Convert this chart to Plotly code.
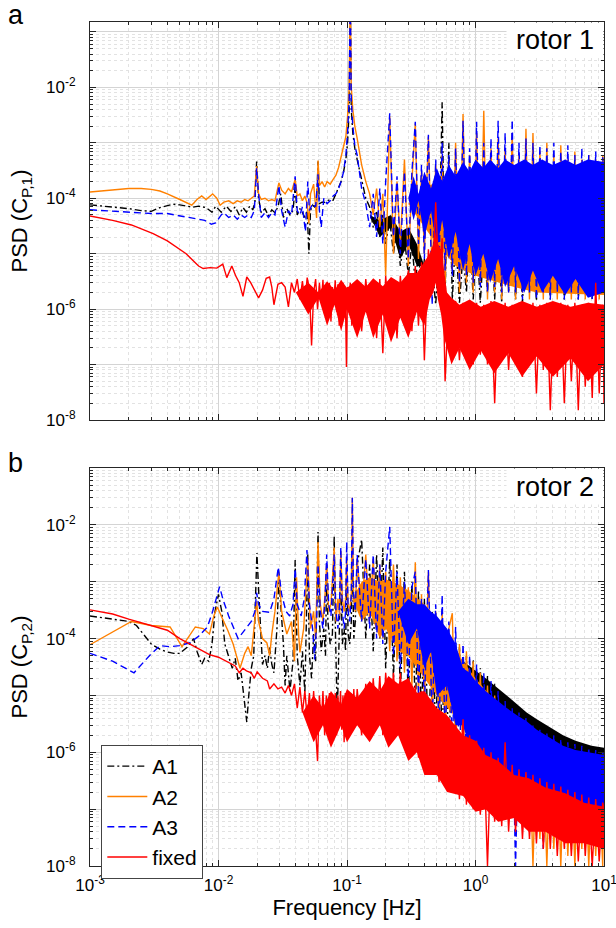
import plotly.graph_objects as go

# ---------------- data ----------------
# shared frequency grid (Hz) for the dense high-frequency part of every spectrum
F_DENSE = [0.12, 0.13, 0.14, 0.15, 0.16, 0.17, 0.18, 0.19,
           0.20, 0.215, 0.23, 0.245, 0.26, 0.28, 0.30, 0.32,
           0.34, 0.36, 0.38, 0.40, 0.43, 0.46, 0.49, 0.52,
           0.55, 0.58, 0.62, 0.66, 0.70, 0.75, 0.80, 0.85,
           0.90, 0.96, 1.02, 1.09, 1.16, 1.24, 1.32, 1.41,
           1.50, 1.60, 1.70, 1.81, 1.93, 2.05, 2.18, 2.32,
           2.47, 2.63, 2.80, 2.98, 3.17, 3.37, 3.59, 3.82,
           4.07, 4.33, 4.61, 4.91, 5.23, 5.57, 5.93, 6.31,
           6.72, 7.15, 7.61, 8.10, 8.62, 9.18, 9.77, 10.0]

# ---- rotor 1 : low-frequency part (f [Hz], PSD) ----
r1_A1_low = [(0.001, 7.6e-5), (0.0015, 7e-5), (0.002, 6.5e-5), (0.0025, 6e-5), (0.003, 5.8e-5),
             (0.0035, 6.8e-5), (0.0044, 7.8e-5), (0.005, 7.6e-5), (0.0063, 6.9e-5), (0.007, 7.2e-5),
             (0.008, 6.8e-5), (0.0089, 5.6e-5), (0.0095, 7.2e-5), (0.0105, 5.6e-5), (0.0115, 7.2e-5),
             (0.0125, 5.8e-5), (0.0135, 7e-5), (0.0145, 5e-5), (0.0155, 6.8e-5), (0.0165, 5.6e-5),
             (0.0175, 7.2e-5), (0.0185, 6.2e-5), (0.0192, 8.5e-5), (0.0198, 4.6e-4), (0.0205, 1e-4),
             (0.0215, 5.5e-5), (0.023, 6.5e-5), (0.0245, 4.8e-5), (0.026, 6.2e-5), (0.0275, 5.5e-5),
             (0.029, 7e-5), (0.0305, 1.2e-4), (0.032, 4.5e-5), (0.034, 6.5e-5), (0.036, 5e-5),
             (0.038, 6e-5), (0.0395, 1.6e-4), (0.041, 5e-5), (0.043, 6.5e-5), (0.045, 5.5e-5),
             (0.047, 4.5e-5), (0.049, 6e-5), (0.0505, 1e-5), (0.052, 6e-5), (0.054, 7.5e-5),
             (0.056, 7e-5), (0.058, 8e-5), (0.0595, 4.6e-4), (0.061, 8e-5), (0.064, 8.5e-5),
             (0.067, 8.5e-5), (0.07, 9e-5), (0.074, 9.5e-5), (0.078, 9.2e-5), (0.082, 1.2e-4),
             (0.086, 1.5e-4), (0.09, 2e-4), (0.094, 3e-4), (0.098, 5e-4), (0.101, 1e-3),
             (0.104, 4e-3), (0.106, 0.5), (0.108, 4e-3), (0.111, 1.5e-3), (0.115, 8e-4)]
r1_A2_low = [(0.001, 1.3e-4), (0.0015, 1.4e-4), (0.002, 1.5e-4), (0.0025, 1.5e-4), (0.003, 1.45e-4),
             (0.0035, 1.35e-4), (0.004, 1.2e-4), (0.005, 9.5e-5), (0.0062, 7.5e-5), (0.0068, 9.5e-5),
             (0.0074, 1.1e-4), (0.008, 9.5e-5), (0.009, 1.2e-4), (0.0097, 1e-4), (0.0103, 7.5e-5),
             (0.011, 8.5e-5), (0.012, 9e-5), (0.013, 8e-5), (0.014, 9e-5), (0.015, 8.5e-5),
             (0.016, 9.5e-5), (0.017, 9e-5), (0.018, 1e-4), (0.019, 1.1e-4), (0.0198, 3.8e-4),
             (0.0205, 1.2e-4), (0.0215, 9.5e-5), (0.023, 1e-4), (0.0245, 9e-5), (0.026, 9.5e-5),
             (0.0275, 9e-5), (0.0295, 1.9e-4), (0.031, 1.4e-4), (0.033, 1.2e-4), (0.035, 1.5e-4),
             (0.037, 1.3e-4), (0.0395, 2.2e-4), (0.041, 1.1e-4), (0.043, 1.2e-4), (0.045, 9e-5),
             (0.047, 1.1e-4), (0.049, 8e-5), (0.0505, 3.5e-5), (0.052, 1.2e-4), (0.055, 1.8e-4),
             (0.058, 4.4e-5), (0.0595, 4.8e-4), (0.061, 1.7e-4), (0.064, 2e-4), (0.067, 1.6e-4),
             (0.07, 2e-4), (0.074, 1.8e-4), (0.078, 2.2e-4), (0.082, 2.6e-4), (0.086, 3.6e-4),
             (0.09, 5.5e-4), (0.094, 8e-4), (0.098, 1.3e-3), (0.101, 3e-3), (0.104, 1e-2),
             (0.106, 0.5), (0.108, 1e-2), (0.111, 4e-3), (0.115, 2e-3)]
r1_A3_low = [(0.001, 6.2e-5), (0.0015, 5.8e-5), (0.002, 5.5e-5), (0.0025, 5.3e-5), (0.003, 5.3e-5),
             (0.004, 5.3e-5), (0.005, 4.8e-5), (0.006, 4.5e-5), (0.007, 4.2e-5), (0.0078, 4e-5),
             (0.0088, 3.4e-5), (0.0095, 3.6e-5), (0.0105, 5e-5), (0.011, 5.5e-5), (0.012, 4.5e-5),
             (0.013, 5e-5), (0.014, 4.2e-5), (0.015, 5e-5), (0.016, 4.5e-5), (0.017, 5e-5),
             (0.018, 4.5e-5), (0.019, 6e-5), (0.0198, 3.5e-4), (0.0205, 1.2e-4), (0.0215, 4.5e-5),
             (0.023, 5.5e-5), (0.0245, 4.5e-5), (0.026, 5.5e-5), (0.0275, 5e-5), (0.0295, 1.7e-4),
             (0.031, 6e-5), (0.033, 3e-5), (0.035, 6e-5), (0.037, 5e-5), (0.0395, 2.5e-4),
             (0.041, 6e-5), (0.043, 5e-5), (0.045, 7e-5), (0.0475, 2.5e-5), (0.0495, 2e-4),
             (0.051, 6e-5), (0.054, 8e-5), (0.057, 7e-5), (0.0595, 2.7e-4), (0.061, 6e-5),
             (0.063, 3e-5), (0.066, 1e-4), (0.07, 8e-5), (0.074, 9e-5), (0.078, 1.1e-4),
             (0.082, 1.2e-4), (0.086, 1.5e-4), (0.09, 2e-4), (0.094, 3e-4), (0.098, 6e-4),
             (0.101, 1.5e-3), (0.104, 6e-3), (0.106, 0.5), (0.108, 6e-3), (0.111, 2e-3),
             (0.115, 9e-4)]
r1_FX_low = [(0.001, 4.8e-5), (0.0015, 4e-5), (0.0021, 3.3e-5), (0.0031, 2.3e-5), (0.004, 1.7e-5),
             (0.0047, 1.3e-5), (0.0056, 1e-5), (0.0063, 7.6e-6), (0.007, 6e-6), (0.0076, 5.4e-6),
             (0.0086, 5.6e-6), (0.0097, 5.5e-6), (0.0108, 6.5e-6), (0.0116, 3.7e-6), (0.0127, 6e-6),
             (0.0136, 4e-6), (0.0145, 3e-6), (0.0155, 1.7e-6), (0.0166, 3.8e-6), (0.0178, 3e-6),
             (0.019, 2.3e-6), (0.0205, 1.6e-6), (0.022, 2.2e-6), (0.0235, 3.6e-6), (0.025, 3.8e-6),
             (0.026, 2.5e-6), (0.027, 1.2e-6), (0.029, 2.8e-6), (0.031, 3e-6), (0.033, 2.5e-6),
             (0.035, 1.1e-6), (0.037, 3e-6), (0.039, 2e-6), (0.041, 3.5e-6), (0.043, 1.5e-6),
             (0.045, 3.2e-6), (0.047, 1.3e-6), (0.049, 3.7e-6), (0.051, 2.3e-6), (0.053, 2.2e-7),
             (0.055, 2e-6), (0.057, 3.5e-6), (0.059, 1e-6), (0.061, 3e-6), (0.063, 1.3e-6),
             (0.065, 3.4e-6), (0.067, 8e-7), (0.069, 2.7e-6), (0.071, 1.2e-6), (0.073, 3e-6),
             (0.075, 6e-7), (0.077, 2.5e-6), (0.079, 1.5e-6), (0.081, 3.3e-6), (0.083, 9e-7),
             (0.085, 2.8e-6), (0.087, 5e-7), (0.089, 2.5e-6), (0.091, 1.2e-6), (0.093, 3e-6),
             (0.095, 7e-7), (0.097, 2.2e-6), (0.099, 9e-8), (0.101, 2.5e-6), (0.103, 1e-6),
             (0.106, 3e-6), (0.109, 5e-7), (0.112, 2.5e-6), (0.116, 6e-7)]

# ---- rotor 1 : dense part on F_DENSE ----
r1_A1_dense = [5e-4, 2e-4, 1e-4, 7e-5, 3e-5, 6e-5, 2e-5, 5e-5,
               1.5e-5, 4e-5, 1e-5, 3e-5, 6e-6, 2e-5, 4e-6, 1.5e-5,
               3e-6, 1e-5, 2e-6, 8e-6, 1.5e-6, 6e-6, 1.2e-6, 1e-5,
               5.4e-3, 2e-6, 1e-3, 1.5e-6, 2e-5, 1.3e-6, 1e-5, 2e-6,
               3e-5, 1.5e-6, 2e-5, 1.3e-6, 1.5e-5, 2e-6, 3e-5, 1.5e-6,
               2e-5, 1.3e-6, 6e-4, 2e-6, 4e-5, 1.5e-6, 2e-5, 1.3e-6,
               3e-5, 2e-6, 2e-5, 1.4e-6, 2e-5, 2e-6, 3e-5, 1.5e-6,
               2e-5, 2e-6, 3e-5, 1.5e-6, 2e-5, 2e-6, 3e-5, 1.5e-6,
               2e-5, 2e-6, 3e-5, 1.5e-6, 2e-5, 2e-6, 3e-5, 1e-5]
r1_A2_dense = [1.2e-3, 4e-4, 2e-4, 1.2e-4, 5e-5, 1.5e-4, 3e-5, 1.2e-4,
               4e-6, 3e-3, 1e-5, 2e-4, 1.5e-5, 5e-4, 6e-6, 2e-4,
               2.2e-3, 8e-6, 3e-4, 1e-5, 1.3e-3, 4e-6, 4e-4, 8e-6,
               6e-4, 3e-6, 5e-4, 5e-6, 1e-3, 2e-6, 3.3e-3, 3e-6,
               6e-4, 2e-6, 1.5e-3, 3e-6, 3.8e-3, 1.5e-6, 8e-4, 2e-6,
               1.2e-3, 1.5e-6, 8e-4, 2e-6, 1.5e-3, 1.5e-6, 6e-4, 2e-6,
               1.8e-3, 1.5e-6, 1.5e-3, 2e-6, 7e-4, 1.5e-6, 1e-3, 2e-6,
               6e-4, 1.5e-6, 9e-4, 2e-6, 5e-4, 1.5e-6, 7e-4, 2e-6,
               5e-4, 1.5e-6, 6e-4, 2e-6, 5e-4, 1.5e-6, 6e-4, 4e-4]
r1_A3_dense = [6e-4, 1.5e-4, 8e-5, 3e-5, 1.2e-4, 2e-5, 1.5e-4, 1.5e-5,
               2e-4, 3.4e-3, 2e-5, 2.5e-4, 1e-5, 3e-4, 8e-6, 3e-4,
               2.4e-3, 1.5e-5, 4e-4, 8e-6, 1.4e-3, 1.2e-6, 5e-4, 6e-6,
               1e-3, 5e-6, 6e-4, 4e-6, 8e-4, 3e-6, 2.5e-3, 4e-6,
               8e-4, 3e-6, 2.4e-3, 2.5e-6, 1e-3, 2e-6, 1.2e-3, 2.5e-6,
               2.5e-3, 2e-6, 1.5e-3, 2e-6, 2.6e-3, 2e-6, 1e-3, 1.5e-6,
               1.2e-3, 2e-6, 1e-3, 1.5e-6, 9e-4, 2e-6, 8e-4, 1.5e-6,
               1e-3, 2e-6, 7e-4, 1.5e-6, 9e-4, 2e-6, 6e-4, 1.5e-6,
               8e-4, 2e-6, 6e-4, 1.5e-6, 7e-4, 2e-6, 5.5e-4, 3e-4]
r1_FX_dense = [3e-6, 4e-7, 3.5e-6, 6e-7, 3e-6, 3e-7, 3.5e-6, 1.6e-7,
               4e-6, 5e-7, 3.5e-6, 3e-7, 4e-6, 6e-7, 5e-6, 4e-7,
               6e-6, 5e-7, 7e-6, 1.2e-7, 1.2e-5, 2e-6, 8.5e-5, 3e-6,
               1.9e-5, 5e-8, 1.5e-6, 1.5e-7, 1.4e-6, 1.2e-7, 1.3e-6, 2e-7,
               1.4e-6, 1e-7, 1.3e-6, 1.5e-7, 1.2e-6, 1e-7, 1.4e-6, 2e-8,
               1.2e-6, 1.2e-7, 1.3e-6, 8e-8, 1.2e-6, 1e-7, 1.3e-6, 6e-8,
               1.2e-6, 1e-7, 1.3e-6, 3e-8, 1.2e-6, 8e-8, 1.3e-6, 1.5e-8,
               1.2e-6, 6e-8, 1.3e-6, 2e-8, 1.2e-6, 5e-8, 1.3e-6, 1.5e-8,
               1.2e-6, 4e-8, 1.3e-6, 2.5e-8, 3e-6, 3e-8, 1.2e-6, 2e-8]

# ---- rotor 1 : envelopes of the densely filled regions ----
r1_A1_band_f = [0.15, 0.18, 0.22, 0.26, 0.3, 0.35, 0.4]
r1_A1_band_lo = [5e-5, 2e-5, 3e-5, 8e-6, 1.5e-5, 6e-6, 6e-6]
r1_A1_band_hi = [5e-5, 4e-5, 5e-5, 2.5e-5, 3e-5, 1.5e-5, 6e-6]
r1_A2_band_f = [0.3, 0.4, 0.5, 0.7, 1.0, 1.5, 2.0, 3.0, 10.0]
r1_A2_band_lo = [8e-5, 3e-5, 1.5e-5, 6e-6, 4e-6, 3e-6, 2.5e-6, 2e-6, 1.8e-6]
r1_A2_band_hi = [8e-5, 1.5e-4, 2e-4, 2.5e-4, 3e-4, 3e-4, 3.5e-4, 3.5e-4, 4e-4]
r1_A3_band_f = [0.3, 0.33, 0.36, 0.4, 0.45, 0.5, 0.55, 0.62, 0.7, 0.8, 0.9, 1.0, 1.15,
                1.3, 1.5, 1.7, 2.0, 2.4, 2.8, 3.3, 4.0, 5.0, 6.0, 7.5, 10.0]
r1_A3_band_lo = [1e-4, 4e-5, 9e-5, 2e-5, 6e-5, 1.2e-5, 4e-5, 8e-6, 2.5e-5, 5e-6, 1.5e-5, 4e-6, 1e-5,
                 3e-6, 8e-6, 2.5e-6, 6e-6, 2e-6, 5e-6, 2e-6, 4e-6, 1.8e-6, 3.5e-6, 1.6e-6, 2e-6]
r1_A3_band_hi = [1e-4, 2.5e-4, 1.2e-4, 3e-4, 1.5e-4, 3.5e-4, 2e-4, 4e-4, 2.5e-4, 4.5e-4, 3e-4, 5e-4, 3.5e-4,
                 5e-4, 3.5e-4, 5e-4, 4e-4, 5e-4, 4e-4, 5e-4, 4e-4, 5e-4, 4e-4, 5e-4, 4.5e-4]
r1_FX_band_f = [0.04, 0.05, 0.06, 0.07, 0.08, 0.09, 0.1, 0.12, 0.14, 0.16, 0.19, 0.22, 0.26, 0.3,
                0.35, 0.4, 0.44, 0.47, 0.49, 0.51, 0.54, 0.57, 0.6, 0.65, 0.75, 0.9, 1.1, 1.4,
                1.8, 2.3, 3.0, 4.0, 5.5, 7.5, 10.0]
r1_FX_band_lo = [2e-6, 8e-7, 1.6e-6, 5e-7, 1.2e-6, 4e-7, 1e-6, 3e-7, 9e-7, 3e-7, 8e-7, 2.5e-7, 7e-7, 3e-7,
                 9e-7, 5e-7, 1.5e-6, 2e-6, 3e-6, 1.5e-6, 8e-7, 3e-7, 2e-7, 1e-7, 2e-7, 8e-8, 1.8e-7, 7e-8,
                 1.6e-7, 6e-8, 1.4e-7, 6e-8, 1.3e-7, 5e-8, 1e-7]
r1_FX_band_hi = [2e-6, 3e-6, 2e-6, 3.2e-6, 2.2e-6, 3.4e-6, 2.4e-6, 3.5e-6, 2.5e-6, 3.6e-6, 2.6e-6, 3.8e-6, 3e-6, 4.5e-6,
                 4.5e-6, 7e-6, 1e-5, 1.5e-5, 2.5e-5, 1.5e-5, 1.2e-5, 5e-6, 2e-6, 1.6e-6, 1.2e-6, 1.5e-6, 1.1e-6, 1.4e-6,
                 1.1e-6, 1.4e-6, 1.1e-6, 1.4e-6, 1.1e-6, 1.3e-6, 1.2e-6]

# ---- rotor 2 : low-frequency part ----
r2_A1_low = [(0.001, 2.5e-4), (0.0015, 2.2e-4), (0.002, 2e-4), (0.0023, 1.7e-4), (0.0027, 1.1e-4),
             (0.003, 8e-5), (0.0035, 6.5e-5), (0.004, 5.8e-5), (0.0045, 5.5e-5), (0.005, 5.5e-5),
             (0.0057, 7e-5), (0.0064, 1e-4), (0.0068, 6e-5), (0.0074, 3.5e-5), (0.0078, 4.5e-5),
             (0.0084, 4e-5), (0.0089, 8e-5), (0.0094, 3e-4), (0.0100, 6e-4), (0.0106, 3e-4),
             (0.0112, 8e-5), (0.012, 5e-5), (0.0128, 3e-5), (0.0135, 4.5e-5), (0.0142, 1.8e-5),
             (0.0150, 2.5e-5), (0.0158, 1e-5), (0.0166, 3.4e-6), (0.0172, 1e-5), (0.018, 3e-5),
             (0.0188, 5e-5), (0.0194, 1e-3), (0.0199, 3.2e-3), (0.0206, 6e-4), (0.0213, 1e-4),
             (0.022, 3.5e-5), (0.023, 5e-5), (0.024, 3e-5), (0.025, 7e-5), (0.026, 3.5e-5),
             (0.027, 2.5e-5), (0.0285, 1.5e-4), (0.0295, 1.2e-3), (0.0305, 4e-4), (0.032, 8e-5),
             (0.033, 1.5e-5), (0.034, 5e-5), (0.036, 1.2e-5), (0.038, 4e-5), (0.0395, 2.4e-3),
             (0.041, 5e-5), (0.043, 1.5e-5), (0.045, 6e-5), (0.047, 1.1e-5), (0.0495, 3e-3),
             (0.051, 5e-5), (0.053, 2e-5), (0.055, 1.2e-4), (0.057, 4e-5), (0.0595, 7.5e-3),
             (0.061, 2e-4), (0.063, 6e-5), (0.066, 1.5e-4), (0.068, 5e-5), (0.0695, 2e-3),
             (0.071, 2e-4), (0.074, 8e-5), (0.077, 1.2e-4), (0.0795, 6.3e-3), (0.0815, 1e-4),
             (0.084, 4.4e-6), (0.087, 1.2e-4), (0.0895, 1.5e-3), (0.092, 8e-5), (0.095, 1.5e-4),
             (0.0975, 6e-5), (0.0995, 2e-3), (0.102, 1.2e-4), (0.105, 8e-5), (0.108, 2e-4),
             (0.110, 3e-3), (0.113, 1e-4), (0.116, 2e-4)]
r2_A2_low = [(0.001, 7.8e-5), (0.0015, 1.3e-4), (0.0021, 2e-4), (0.003, 1.7e-4), (0.0042, 1.6e-4),
             (0.0052, 7.2e-5), (0.0066, 1.6e-4), (0.0076, 1.5e-4), (0.0085, 1.2e-4), (0.0092, 2.5e-4),
             (0.0098, 3.6e-4), (0.0105, 2.5e-4), (0.0118, 1.4e-4), (0.013, 8e-5), (0.0147, 3e-5),
             (0.016, 5.5e-5), (0.017, 7.2e-5), (0.018, 5e-5), (0.019, 1.5e-4), (0.0198, 4.5e-4),
             (0.0205, 2e-4), (0.022, 1e-4), (0.0238, 8.4e-5), (0.025, 5e-5), (0.026, 1.2e-4),
             (0.0275, 3e-4), (0.0295, 1.5e-3), (0.031, 3e-4), (0.034, 1.2e-4), (0.037, 2e-4),
             (0.039, 4e-5), (0.0405, 1.2e-3), (0.042, 1.2e-4), (0.043, 5.7e-5), (0.046, 1.5e-4),
             (0.0495, 2.5e-3), (0.052, 1.5e-4), (0.055, 3e-4), (0.057, 1e-4), (0.0595, 5e-3),
             (0.062, 4e-4), (0.065, 2e-4), (0.0675, 6e-4), (0.0695, 2e-3), (0.072, 3e-4),
             (0.075, 4e-4), (0.0795, 4e-3), (0.082, 2e-4), (0.085, 5e-4), (0.0875, 2.5e-4),
             (0.0895, 3.5e-3), (0.092, 5e-4), (0.095, 3e-4), (0.0975, 5e-4), (0.0995, 2.5e-3),
             (0.102, 4e-4), (0.105, 3e-4), (0.108, 6e-4), (0.110, 3e-2), (0.1125, 5e-4),
             (0.116, 3e-4)]
r2_A3_low = [(0.001, 5.5e-5), (0.0015, 4e-5), (0.0022, 2.5e-5), (0.0029, 5e-5), (0.0035, 7.5e-5),
             (0.0042, 7.2e-5), (0.005, 7.5e-5), (0.006, 8.5e-5), (0.007, 1.1e-4), (0.0082, 1.6e-4),
             (0.009, 3e-4), (0.0098, 6e-4), (0.0102, 8.2e-4), (0.0108, 5e-4), (0.012, 2.5e-4),
             (0.0142, 1e-4), (0.016, 1.45e-4), (0.018, 2e-4), (0.0192, 3e-4), (0.0198, 6.4e-4),
             (0.0205, 4e-4), (0.022, 3e-4), (0.025, 2.9e-4), (0.027, 5e-4), (0.0292, 1.8e-3),
             (0.031, 6e-4), (0.0335, 3e-4), (0.0358, 2.5e-4), (0.038, 4e-4), (0.0395, 1.7e-3),
             (0.041, 4e-4), (0.044, 2.5e-4), (0.0465, 5e-4), (0.0488, 3.6e-3), (0.051, 4e-4),
             (0.054, 1.5e-4), (0.056, 4.3e-5), (0.058, 2e-4), (0.0595, 2e-3), (0.062, 3e-4),
             (0.065, 1.5e-4), (0.0675, 5e-4), (0.0695, 3e-3), (0.072, 4e-4), (0.075, 2.5e-4),
             (0.0795, 3e-3), (0.082, 3e-4), (0.085, 1.5e-4), (0.0875, 4e-4), (0.0895, 4e-3),
             (0.092, 3e-4), (0.095, 1.5e-4), (0.0975, 3e-4), (0.0995, 5e-3), (0.102, 3e-4),
             (0.105, 2e-4), (0.108, 6e-4), (0.110, 3e-2), (0.1125, 6e-4), (0.116, 3e-4)]
r2_FX_low = [(0.001, 3.2e-4), (0.0015, 2.7e-4), (0.002, 2.2e-4), (0.003, 1.7e-4), (0.004, 1.4e-4),
             (0.005, 1e-4), (0.0062, 7.6e-5), (0.0075, 6e-5), (0.0085, 5.2e-5), (0.01, 4.7e-5),
             (0.0115, 4e-5), (0.0135, 3.3e-5), (0.0145, 2.5e-5), (0.0155, 3e-5), (0.0165, 2.7e-5),
             (0.018, 2.5e-5), (0.019, 2e-5), (0.02, 2.6e-5), (0.022, 2e-5), (0.024, 1.8e-5),
             (0.025, 1.3e-5), (0.027, 1.6e-5), (0.029, 1.3e-5), (0.031, 1.4e-5), (0.033, 1.1e-5),
             (0.035, 1.5e-5), (0.037, 1e-5), (0.039, 1.6e-5), (0.041, 6e-6), (0.043, 1.4e-5),
             (0.045, 5e-6), (0.047, 1.2e-5), (0.049, 4e-6), (0.051, 1.1e-5), (0.053, 3e-6),
             (0.055, 1.2e-5), (0.057, 2.5e-6), (0.059, 7e-7), (0.061, 1e-5), (0.063, 3e-6),
             (0.065, 1.2e-5), (0.067, 2e-6), (0.069, 1e-5), (0.071, 3e-6), (0.073, 1.1e-5),
             (0.075, 2.5e-6), (0.077, 9e-6), (0.079, 3.5e-6), (0.081, 1.1e-5), (0.083, 2e-6),
             (0.085, 1e-5), (0.087, 3e-6), (0.089, 1.2e-5), (0.091, 2.5e-6), (0.093, 1e-5),
             (0.095, 1.5e-6), (0.097, 1.1e-5), (0.099, 3e-6), (0.101, 1.2e-5), (0.104, 2e-6),
             (0.107, 1.1e-5), (0.110, 2.5e-6), (0.113, 1.3e-5), (0.116, 3e-6)]

# ---- rotor 2 : dense part on F_DENSE ----
r2_A1_dense = [2e-3, 5.5e-3, 1e-4, 2e-3, 6e-5, 3e-3, 1e-4, 4e-3,
               3e-5, 2.5e-3, 2e-5, 2e-3, 1e-5, 1.5e-3, 8e-6, 1e-3,
               5e-6, 7e-4, 3e-6, 5e-4, 1e-6, 3e-4, 2e-6, 2e-4,
               1.5e-6, 1.5e-4, 1e-6, 1e-4, 1.5e-6, 7e-5, 1.5e-6, 5e-5,
               1e-6, 4.3e-5, 1e-6, 3e-5, 1e-6, 2.2e-5, 9e-7, 1.6e-5,
               1e-6, 1.1e-5, 1e-6, 8e-6, 9e-7, 7e-6, 9e-7, 5.5e-6,
               8e-7, 4.5e-6, 8e-7, 3.5e-6, 7e-7, 3e-6, 7e-7, 2.5e-6,
               6e-7, 2.2e-6, 6e-7, 1.8e-6, 5e-7, 1.6e-6, 5e-7, 1.5e-6,
               5e-7, 1.3e-6, 5e-7, 1.3e-6, 4e-7, 1.2e-6, 4e-7, 1e-6]
r2_A2_dense = [2.5e-3, 3e-4, 3e-3, 2e-4, 2.5e-3, 1.5e-4, 2e-3, 1e-4,
               1.5e-3, 6e-5, 2e-3, 4e-5, 1.2e-3, 2.5e-5, 8e-4, 1.5e-5,
               2.2e-3, 1e-5, 6e-4, 6e-6, 1.5e-3, 4e-6, 3e-4, 3e-6,
               3e-4, 2e-6, 1.5e-4, 2.8e-4, 1e-6, 8e-5, 8e-7, 6e-5,
               6e-7, 4e-5, 5e-7, 2.5e-5, 4e-7, 1.5e-5, 3e-7, 1e-5,
               2e-7, 6e-6, 2e-7, 4e-6, 1.5e-7, 3e-6, 1e-7, 2e-6,
               5e-8, 1.5e-6, 1e-8, 1.2e-6, 3e-8, 1e-6, 1e-8, 9e-7,
               2e-8, 8e-7, 1e-8, 7e-7, 1.5e-8, 6e-7, 1e-8, 6e-7,
               2e-8, 5e-7, 1e-8, 5e-7, 1.5e-8, 4e-7, 1e-8, 3e-7]
r2_A3_dense = [3e-3, 2e-4, 2.5e-3, 1.5e-4, 3e-3, 1e-4, 2e-3, 8e-5,
               1.5e-3, 9.2e-3, 5e-5, 1.5e-3, 3e-5, 1e-3, 2e-5, 8e-4,
               1.5e-3, 1e-5, 5e-4, 6e-6, 1.6e-3, 3e-6, 4e-4, 2e-6,
               5.9e-4, 1.5e-6, 2e-4, 1e-6, 1.6e-4, 8e-7, 8e-5, 6e-7,
               5e-5, 5e-7, 3.5e-5, 4e-7, 2.5e-5, 3e-7, 1.8e-5, 3e-7,
               1.2e-5, 2.5e-7, 8e-6, 2e-7, 6e-6, 1e-8, 5e-6, 1.5e-7,
               4e-6, 1.2e-7, 3e-6, 1e-7, 2.5e-6, 2e-8, 2.2e-6, 1e-7,
               2e-6, 8e-8, 1.7e-6, 1e-7, 1.5e-6, 8e-8, 1.4e-6, 7e-8,
               1.3e-6, 8e-8, 1.2e-6, 7e-8, 1.1e-6, 6e-8, 1e-6, 8e-7]
r2_FX_dense = [1.3e-5, 2e-6, 1.6e-5, 2.5e-6, 2e-5, 3e-6, 2.2e-5, 2e-6,
               2.5e-5, 3e-6, 2.5e-5, 2e-6, 2.5e-5, 1.5e-6, 2e-5, 1e-6,
               1.5e-5, 8e-7, 1.2e-5, 5e-7, 8e-6, 4e-7, 6e-6, 3e-7,
               5e-6, 2.5e-7, 4e-6, 2e-7, 3e-6, 1.5e-7, 3.8e-6, 1.2e-7,
               2e-6, 1e-7, 1.6e-6, 8e-8, 1.2e-6, 1e-8, 1e-6, 6e-8,
               8e-7, 5e-8, 1.5e-6, 4e-8, 6e-7, 4e-8, 5e-7, 3e-8,
               4.5e-7, 3e-8, 4e-7, 2.5e-8, 3.5e-7, 2e-8, 3e-7, 2e-8,
               2.8e-7, 1.5e-8, 2.5e-7, 2e-8, 2.2e-7, 1.5e-8, 2e-7, 1.2e-8,
               1.8e-7, 1.5e-8, 1.6e-7, 1e-8, 1.5e-7, 1.2e-8, 1.3e-7, 1e-7]

# ---- rotor 2 : envelopes of the densely filled regions ----
r2_A1_band_f = [0.3, 0.5, 0.8, 1.2, 1.75, 2.5, 3.0, 4.8, 6.0, 8.0, 10.0]
r2_A1_band_lo = [1e-4, 3e-5, 1e-5, 5e-6, 3e-6, 2e-6, 1.5e-6, 8e-7, 7e-7, 6e-7, 6e-7]
r2_A1_band_hi = [1e-4, 1.2e-4, 4e-5, 2e-5, 1e-5, 5e-6, 3.8e-6, 2e-6, 1.6e-6, 1.3e-6, 1.2e-6]
r2_A2_band_f = [0.11, 0.13, 0.15, 0.18, 0.2, 0.25, 0.3, 0.4, 0.5, 0.65, 0.8, 1.0, 1.3,
                1.75, 2.3, 3.0, 5.0, 10.0]
r2_A2_band_lo = [5e-4, 2e-4, 3e-4, 1e-4, 1.5e-4, 6e-5, 5e-5, 2e-5, 1e-5, 5e-6, 3e-6, 1.5e-6, 8e-7,
                 5e-7, 3e-7, 2e-7, 1e-7, 6e-8]
r2_A2_band_hi = [5e-4, 1e-3, 1.2e-3, 1e-3, 1.1e-3, 9e-4, 7e-4, 4e-4, 2e-4, 8e-5, 4e-5, 2e-5, 1e-5,
                 5e-6, 2.5e-6, 1.5e-6, 8e-7, 5e-7]
r2_A3_band_f = [0.25, 0.3, 0.35, 0.4, 0.45, 0.5, 0.6, 0.7, 0.8, 0.9, 1.0, 1.2, 1.4, 1.75,
                2.1, 2.5, 3.0, 3.8, 4.8, 6.0, 7.5, 10.0]
r2_A3_band_lo = [3e-4, 8e-5, 1.5e-4, 3e-5, 6e-5, 1e-5, 1.5e-5, 3e-6, 3e-6, 1.2e-6, 1.2e-6, 5e-7, 6e-7, 2.5e-7,
                 3.5e-7, 1.5e-7, 1.8e-7, 1.1e-7, 1.4e-7, 9e-8, 1e-7, 1e-7]
r2_A3_band_hi = [3e-4, 5e-4, 4e-4, 4e-4, 3e-4, 2.5e-4, 1.5e-4, 8e-5, 3e-5, 2.5e-5, 1.8e-5, 1.2e-5, 9e-6, 6e-6,
                 4.5e-6, 3.5e-6, 2.5e-6, 1.8e-6, 1.3e-6, 1.1e-6, 1e-6, 9e-7]
r2_FX_band_f = [0.045, 0.055, 0.065, 0.075, 0.09, 0.1, 0.12, 0.15, 0.18, 0.21, 0.25, 0.3, 0.35,
                0.4, 0.5, 0.6, 0.8, 1.0, 1.2, 1.5, 2.0, 2.6, 3.5, 5.0, 7.0, 10.0]
r2_FX_band_lo = [5e-6, 1.5e-6, 3e-6, 1.2e-6, 3e-6, 1.5e-6, 3e-6, 1.5e-6, 3e-6, 1.2e-6, 2e-6, 7e-7, 1e-6,
                 4e-7, 4e-7, 2e-7, 1.7e-7, 9e-8, 1e-7, 6e-8, 7e-8, 4e-8, 4e-8, 2.5e-8, 2.5e-8, 2e-8]
r2_FX_band_hi = [5e-6, 1e-5, 6e-6, 1.2e-5, 7e-6, 1.3e-5, 9e-6, 1.8e-5, 1.2e-5, 2.2e-5, 1.6e-5, 2e-5, 1.1e-5,
                 1.2e-5, 6e-6, 4.5e-6, 2e-6, 1.6e-6, 9e-7, 7e-7, 4e-7, 3.5e-7, 2.4e-7, 1.9e-7, 1.3e-7, 1.1e-7]

SERIES_NAMES = ["A1", "A2", "A3", "fixed"]
Y_TICK_VALUES = [1e-8, 1e-6, 1e-4, 1e-2]
Y_TICK_TEXT = ["10<sup>-8</sup>", "10<sup>-6</sup>", "10<sup>-4</sup>", "10<sup>-2</sup>"]
X_TICK_VALUES = [1e-3, 1e-2, 1e-1, 1e0, 1e1]
X_TICK_TEXT = ["10<sup>-3</sup>", "10<sup>-2</sup>", "10<sup>-1</sup>", "10<sup>0</sup>", "10<sup>1</sup>"]

for arr in (r1_A1_dense, r1_A2_dense, r1_A3_dense, r1_FX_dense,
            r2_A1_dense, r2_A2_dense, r2_A3_dense, r2_FX_dense):
    assert len(arr) == len(F_DENSE), len(arr)

# ---------------- styling ----------------
FONT = "Liberation Sans, Arial, Helvetica, sans-serif"
COLORS = {"A1": "#000000", "A2": "#FF8000", "A3": "#0000FF", "fixed": "#FF0000"}
DASHES = {"A1": "7px,3px,2px,3px", "A2": "solid", "A3": "7px,4px", "fixed": "solid"}
LW = 1.4


def unzip(pairs):
    return [p[0] for p in pairs], [p[1] for p in pairs]


fig = go.Figure()


def add_panel(low, dense, bands, xa, ya, legend):
    for name, lowpairs, dvals, band in zip(SERIES_NAMES, low, dense, bands):
        col = COLORS[name]
        bf, blo, bhi = band
        fig.add_trace(go.Scatter(x=bf, y=blo, mode="lines", line=dict(width=0, color=col),
                                 xaxis=xa, yaxis=ya, showlegend=False, hoverinfo="skip"))
        fig.add_trace(go.Scatter(x=bf, y=bhi, mode="lines", line=dict(width=0, color=col),
                                 fill="tonexty", fillcolor=col,
                                 xaxis=xa, yaxis=ya, showlegend=False, hoverinfo="skip"))
        lf, lv = unzip(lowpairs)
        fig.add_trace(go.Scatter(x=lf + F_DENSE, y=lv + dvals, mode="lines", name=name,
                                 line=dict(color=col, width=LW, dash=DASHES[name]),
                                 xaxis=xa, yaxis=ya, showlegend=legend))


add_panel([r1_A1_low, r1_A2_low, r1_A3_low, r1_FX_low],
          [r1_A1_dense, r1_A2_dense, r1_A3_dense, r1_FX_dense],
          [(r1_A1_band_f, r1_A1_band_lo, r1_A1_band_hi),
           (r1_A2_band_f, r1_A2_band_lo, r1_A2_band_hi),
           (r1_A3_band_f, r1_A3_band_lo, r1_A3_band_hi),
           (r1_FX_band_f, r1_FX_band_lo, r1_FX_band_hi)], "x", "y", False)
add_panel([r2_A1_low, r2_A2_low, r2_A3_low, r2_FX_low],
          [r2_A1_dense, r2_A2_dense, r2_A3_dense, r2_FX_dense],
          [(r2_A1_band_f, r2_A1_band_lo, r2_A1_band_hi),
           (r2_A2_band_f, r2_A2_band_lo, r2_A2_band_hi),
           (r2_A3_band_f, r2_A3_band_lo, r2_A3_band_hi),
           (r2_FX_band_f, r2_FX_band_lo, r2_FX_band_hi)], "x2", "y2", True)

# grid / tick helpers (styling)
x_major = [10.0 ** e for e in range(-3, 2)]
x_minor = [m * 10.0 ** e for e in range(-3, 1) for m in range(2, 10)]
y_major = [10.0 ** e for e in range(-8, 0)]
y_minor = [m * 10.0 ** e for e in range(-8, 0) for m in range(2, 10)]
y_major_text = ["" for _ in y_major]
for v, t in zip(Y_TICK_VALUES, Y_TICK_TEXT):
    y_major_text[y_major.index(min(y_major, key=lambda z: abs(z / v - 1)))] = t

AX_COL = "#262626"
GRID = "#d4d4d4"
MINOR_GRID = "#e2e2e2"
TICK_FONT = dict(size=17, color="#000", family=FONT)
TITLE_FONT = dict(size=22, color="#000", family=FONT)

common_x = dict(type="log", range=[-3, 1], showline=True, linecolor=AX_COL, linewidth=1,
                mirror="ticks", ticks="inside", ticklen=6, tickcolor=AX_COL,
                tickmode="array", tickvals=x_major, showgrid=True, gridcolor=GRID, gridwidth=1,
                minor=dict(tickmode="array", tickvals=x_minor, ticks="inside", ticklen=3,
                           tickcolor=AX_COL, showgrid=True, gridcolor=MINOR_GRID, griddash="dot"),
                zeroline=False, tickfont=TICK_FONT, ticklabeloverflow="allow",
                ticklabelstandoff=4)
common_y = dict(type="log", showline=True, linecolor=AX_COL, linewidth=1,
                mirror="ticks", ticks="inside", ticklen=6, tickcolor=AX_COL,
                tickmode="array", tickvals=y_major, ticktext=y_major_text,
                showgrid=True, gridcolor=GRID, gridwidth=1,
                minor=dict(tickmode="array", tickvals=y_minor, ticks="inside", ticklen=3,
                           tickcolor=AX_COL, showgrid=True, gridcolor=MINOR_GRID, griddash="dot"),
                zeroline=False, tickfont=TICK_FONT, ticklabeloverflow="allow",
                ticklabelstandoff=10)

PLOT_BOTTOM = 866
PLOT_H = 928 - 22 - 62
top_dom = [(PLOT_BOTTOM - 420) / PLOT_H, 1.0]
bot_dom = [0.0, (PLOT_BOTTOM - 468) / PLOT_H]

fig.update_layout(
    width=616, height=928,
    margin=dict(l=90, r=12, t=22, b=62, autoexpand=False),
    paper_bgcolor="white", plot_bgcolor="white",
    font=dict(family=FONT, color="#000"),
    xaxis=dict(common_x, domain=[0, 1], anchor="y", showticklabels=False, ticktext=X_TICK_TEXT),
    yaxis=dict(common_y, domain=top_dom, anchor="x", range=[-8, -0.82],
               title=dict(text="PSD (C<sub>P,1</sub>)", font=TITLE_FONT, standoff=12)),
    xaxis2=dict(common_x, domain=[0, 1], anchor="y2", ticktext=X_TICK_TEXT,
                title=dict(text="Frequency [Hz]", font=TITLE_FONT, standoff=4)),
    yaxis2=dict(common_y, domain=bot_dom, anchor="x2", range=[-8, -1],
                title=dict(text="PSD (C<sub>P,2</sub>)", font=TITLE_FONT, standoff=12)),
    legend=dict(x=0.022, y=(PLOT_BOTTOM - 745) / PLOT_H, xanchor="left", yanchor="top",
                traceorder="normal", bgcolor="white", bordercolor="#444", borderwidth=1,
                font=dict(size=21, family=FONT, color="#000"), tracegroupgap=0, itemwidth=40),
    showlegend=True,
    annotations=[
        dict(text="a", xref="paper", yref="paper", x=(6 - 90) / 514, y=(PLOT_BOTTOM + 2) / PLOT_H,
             xanchor="left", yanchor="top", showarrow=False, font=dict(size=27)),
        dict(text="b", xref="paper", yref="paper", x=(6 - 90) / 514, y=(PLOT_BOTTOM - 446) / PLOT_H,
             xanchor="left", yanchor="top", showarrow=False, font=dict(size=27)),
        dict(text="rotor 1", xref="x domain", yref="y domain", x=1, y=1,
             xanchor="right", yanchor="top", showarrow=False, font=dict(size=27),
             bgcolor="white", width=96, height=33, align="center", borderpad=0),
        dict(text="rotor 2", xref="x2 domain", yref="y2 domain", x=1, y=1,
             xanchor="right", yanchor="top", showarrow=False, font=dict(size=27),
             bgcolor="white", width=96, height=35, align="center", borderpad=0),
    ],
)

fig.write_html("out.html", config={"displayModeBar": False},
               post_script="document.body.style.margin='0px';document.body.style.overflow='hidden';")
